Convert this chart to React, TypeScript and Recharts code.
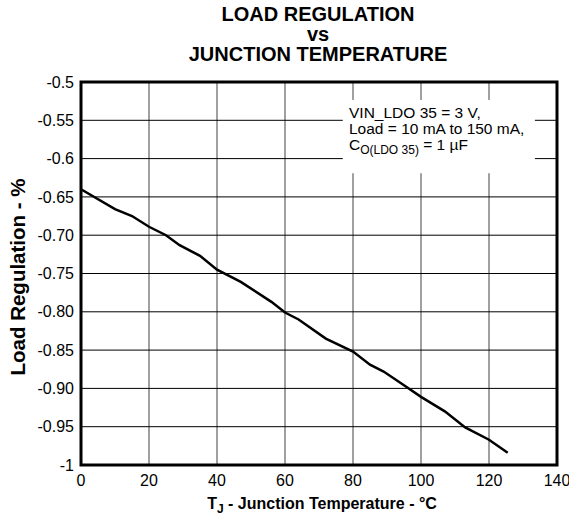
import {
  LineChart,
  Line,
  XAxis,
  YAxis,
  CartesianGrid,
  ReferenceArea,
} from "recharts";

// junction temperature (°C) and load regulation (%)
const temps = [0, 10, 15, 20, 25, 29, 35, 40, 47, 56, 60, 64, 72, 80, 85, 89, 95, 100, 107, 113, 120, 125.5];
const regulation = [
  -0.64, -0.666, -0.675, -0.689, -0.7, -0.713, -0.727, -0.745, -0.761, -0.787, -0.801,
  -0.81, -0.835, -0.852, -0.869, -0.878, -0.896, -0.911, -0.93, -0.951, -0.967, -0.984,
];

const xTicks = [0, 20, 40, 60, 80, 100, 120, 140];
const yTicks = [-0.5, -0.55, -0.6, -0.65, -0.7, -0.75, -0.8, -0.85, -0.9, -0.95, -1];
const yTickLabels = ["-0.5", "-0.55", "-0.6", "-0.65", "-0.70", "-0.75", "-0.80", "-0.85", "-0.90", "-0.95", "-1"];

const titleLines = ["LOAD REGULATION", "vs", "JUNCTION TEMPERATURE"];

const data = temps.map((t, i) => ({ t, v: regulation[i] }));

const FONT = "'Liberation Sans', Arial, sans-serif";

function yLabel(value: number) {
  const i = yTicks.findIndex((t) => Math.abs(t - value) < 1e-6);
  return i >= 0 ? yTickLabels[i] : String(value);
}

export default function App() {
  return (
    <div
      style={{
        position: "absolute",
        left: 0,
        top: 0,
        width: 569,
        height: 518,
        background: "#fff",
        fontFamily: FONT,
        color: "#000",
        overflow: "hidden",
      }}
    >
      <LineChart
        width={569}
        height={518}
        data={data}
        margin={{ top: 82, right: 12, bottom: 23, left: 21 }}
      >
        <CartesianGrid horizontal={false} stroke="#808080" strokeWidth={1.5} />
        <CartesianGrid vertical={false} stroke="#000" strokeWidth={1} />
        <XAxis
          type="number"
          dataKey="t"
          domain={[0, 140]}
          ticks={xTicks}
          axisLine={false}
          tickLine={false}
          tickSize={0}
          tickMargin={10}
          height={30}
          tick={{ fill: "#000", fontSize: 16, fontFamily: FONT }}
        />
        <YAxis
          type="number"
          domain={[-1, -0.5]}
          ticks={yTicks}
          tickFormatter={yLabel}
          axisLine={false}
          tickLine={false}
          tickSize={0}
          tickMargin={7}
          width={60}
          tick={{ fill: "#000", fontSize: 16, fontFamily: FONT }}
        />
        <ReferenceArea
          x1={77}
          x2={133.5}
          y1={-0.619}
          y2={-0.5235}
          fill="#fff"
          fillOpacity={1}
          stroke="none"
        />
        <ReferenceArea
          x1={0}
          x2={140}
          y1={-1}
          y2={-0.5}
          fill="none"
          stroke="#000"
          strokeWidth={3}
        />
        <Line
          type="linear"
          dataKey="v"
          stroke="#000"
          strokeWidth={2.5}
          dot={false}
          isAnimationActive={false}
        />
      </LineChart>

      {titleLines.map((line, i) => (
        <div
          key={line}
          style={{
            position: "absolute",
            left: 118,
            width: 400,
            top: 4 + i * 20,
            textAlign: "center",
            fontWeight: "bold",
            fontSize: 20,
            lineHeight: "20px",
          }}
        >
          {line}
        </div>
      ))}

      <div
        style={{
          position: "absolute",
          left: 349,
          top: 105,
          fontSize: 15.5,
          lineHeight: "16px",
          whiteSpace: "nowrap",
        }}
      >
        <div>VIN_LDO 35 = 3 V,</div>
        <div>Load = 10 mA to 150 mA,</div>
        <div>
          C<sub style={{ fontSize: 12, verticalAlign: "-4px", lineHeight: 0 }}>O(LDO 35)</sub> = 1 µF
        </div>
      </div>

      <div
        style={{
          position: "absolute",
          left: 18,
          top: 277,
          transform: "translate(-50%, -50%) rotate(-90deg)",
          fontSize: 20.5,
          fontWeight: "bold",
          whiteSpace: "nowrap",
        }}
      >
        Load Regulation - %
      </div>

      <div
        style={{
          position: "absolute",
          left: 322,
          top: 495,
          transform: "translateX(-50%)",
          fontSize: 16,
          fontWeight: "bold",
          whiteSpace: "nowrap",
        }}
      >
        T<sub style={{ fontSize: 12, verticalAlign: "-4px", lineHeight: 0 }}>J</sub> - Junction Temperature - °C
      </div>
    </div>
  );
}
